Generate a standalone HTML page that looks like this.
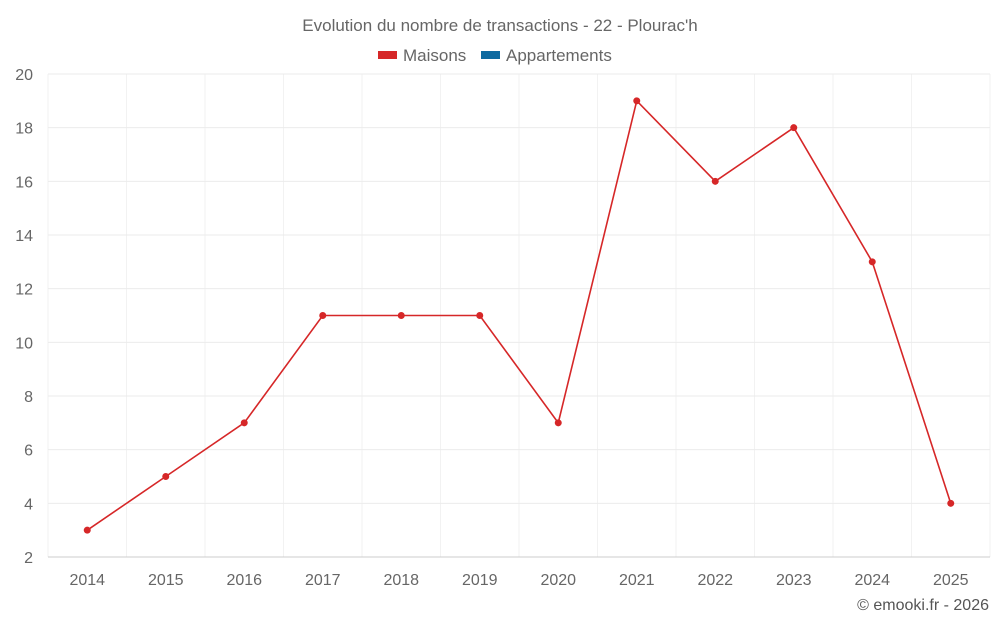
<!DOCTYPE html>
<html><head><meta charset="utf-8"><style>
html,body{margin:0;padding:0;background:#fff;}
svg{display:block;font-family:"Liberation Sans",sans-serif;}
</style></head><body>
<svg id="chart" width="1000" height="625">
<text x="500" y="31" text-anchor="middle" font-size="17" fill="#666">Evolution du nombre de transactions - 22 - Plourac'h</text>
<g>
<g><rect x="378" y="51" width="19" height="8" fill="#d62728"/><text x="403" y="61" font-size="17" fill="#666">Maisons</text></g>
<g><rect x="481" y="51" width="19" height="8" fill="#0e6aa0"/><text x="506" y="61" font-size="17" fill="#666">Appartements</text></g>
</g>
<g id="grid"></g>
<g id="yticks"></g>
<g id="xticks"></g>
<g id="series"></g>
<text x="989" y="610" text-anchor="end" font-size="16" fill="#555">© emooki.fr - 2026</text>
</svg>
<script>
const categories=["2014","2015","2016","2017","2018","2019","2020","2021","2022","2023","2024","2025"];
const maisons=[3,5,7,11,11,11,7,19,16,18,13,4];
const yTicks=[2,4,6,8,10,12,14,16,18,20];
const L=48,R=990,T=74,B=557,yMin=2,yMax=20;
const ns="http://www.w3.org/2000/svg";
const step=(R-L)/categories.length;
function x(i){return L+step*(i+0.5);}
function y(v){return B-(v-yMin)/(yMax-yMin)*(B-T);}
function mk(tag,attrs,parent){const e=document.createElementNS(ns,tag);for(const k in attrs)e.setAttribute(k,attrs[k]);parent.appendChild(e);return e;}
const grid=document.getElementById('grid'),yt=document.getElementById('yticks'),xt=document.getElementById('xticks'),se=document.getElementById('series');
for(let i=0;i<=categories.length;i++){
  const gx=L+step*i;
  const l=mk('line',{x1:gx,x2:gx,y1:T,y2:B,stroke:'#f2f2f2','stroke-width':1},grid);
  
  
}
yTicks.forEach(v=>{
  const l=mk('line',{x1:L,x2:R,y1:y(v),y2:y(v),stroke:v===yMin?'#ccc':'#ebebeb','stroke-width':1},grid);
  
  
  const t=mk('text',{x:33,y:y(v)+6,'text-anchor':'end','font-size':16,fill:'#666'},yt);
  t.textContent=v;
  
  
});
categories.forEach((c,i)=>{
  const t=mk('text',{x:x(i),y:585,'text-anchor':'middle','font-size':16,fill:'#666'},xt);
  t.textContent=c;
  
  
});
const pl=mk('polyline',{points:maisons.map((v,i)=>x(i)+','+y(v)).join(' '),fill:'none',stroke:'#d62728','stroke-width':1.6},se);


maisons.forEach((v,i)=>{
  const c=mk('circle',{cx:x(i),cy:y(v),r:3.5,fill:'#d62728'},se);
  
  
});
</script>
</body></html>
